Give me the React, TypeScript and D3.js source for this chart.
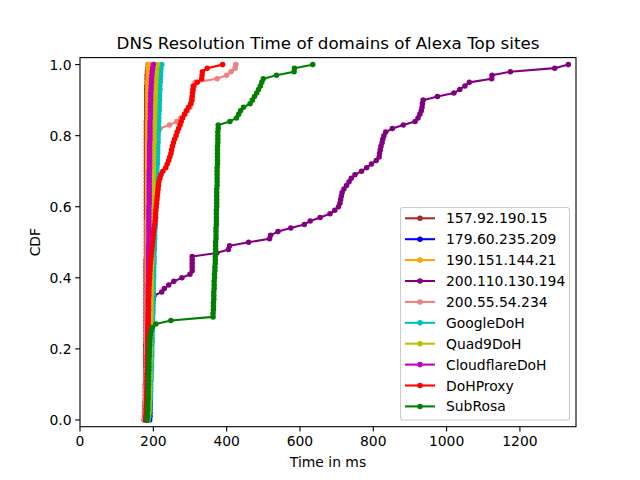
import React from "react";
import * as d3 from "d3";

const seriesNames = [
  "157.92.190.15",
  "179.60.235.209",
  "190.151.144.21",
  "200.110.130.194",
  "200.55.54.234",
  "GoogleDoH",
  "Quad9DoH",
  "CloudflareDoH",
  "DoHProxy",
  "SubRosa",
];

const seriesColors = [
  "#a52a2a", "#0000ff", "#ffa500", "#800080", "#f08080",
  "#00bfbf", "#bfbf00", "#bf00bf", "#ff0000", "#008000",
];

// Resolution times (ms) per server, one value per domain
const t157 = [
  175,176,176,177,177,177,178,178,178,178,
  178,179,179,179,179,179,179,179,179,179,
  179,179,180,180,180,180,180,180,180,180,
  180,180,180,180,180,180,180,180,180,180,
  180,180,180,180,180,180,181,181,181,181,
  181,181,181,181,181,181,181,181,181,181,
  181,181,181,181,181,181,181,181,181,181,
  181,181,181,181,181,181,181,181,181,181,
  181,181,181,181,181,182,182,182,182,182,
  182,182,182,182,182,183,183,183,184,185,
  186,
];
const t179 = [
  190,191,191,191,192,192,192,192,192,192,
  192,192,192,192,193,193,193,193,193,193,
  193,193,193,193,193,193,193,193,193,193,
  193,193,193,193,193,193,193,193,193,194,
  194,194,194,194,194,194,194,194,194,194,
  194,194,194,194,194,194,194,194,194,194,
  194,194,194,194,194,194,194,194,195,195,
  195,195,195,195,195,195,195,195,195,195,
  195,195,195,195,196,196,196,196,196,196,
  196,196,197,197,197,197,198,198,199,200,
  202,
];
const t190 = [
  178,179,179,180,180,180,181,181,181,181,
  181,182,182,182,182,182,182,182,182,182,
  182,182,182,182,182,183,183,183,183,183,
  183,183,183,183,183,183,183,183,183,183,
  183,183,183,183,183,183,183,183,183,183,
  183,183,183,183,183,183,183,184,184,184,
  184,184,184,184,184,184,184,184,184,184,
  184,184,184,184,184,184,184,184,184,184,
  184,184,184,184,184,185,185,185,185,185,
  185,185,185,185,185,185,186,186,186,186,
  187,
];
const t200a = [
  182,183,184,184,185,185,186,186,187,187,
  188,188,188,189,189,189,190,190,190,191,
  191,191,192,192,193,193,194,194,195,195,
  196,197,198,199,200,
  202,223,230,242,256,278,300,306,306,306,
  306,306,373,405,408,460,517,520,540,575,
  612,628,655,682,695,705,709,711,713,715,
  720,727,734,740,750,768,782,795,808,816,
  817,819,821,824,826,829,834,852,882,914,
  922,927,931,933,934,936,975,1020,1036,1050,
  1062,1123,1124,1174,1295,1332,
];
const t200b = [
  176,177,177,178,178,178,179,179,179,179,
  180,180,180,180,180,181,181,181,181,181,
  181,182,182,182,182,182,182,182,183,183,
  183,183,183,183,183,183,184,184,184,184,
  184,184,184,184,184,185,185,185,185,185,
  185,185,185,185,185,186,186,186,186,186,
  186,186,186,187,187,187,187,187,187,187,
  188,188,188,188,188,189,189,189,190,191,
  192,
  196,218,244,264,275,286,293,300,303,305,
  306,307,309,312,314,374,400,412,423,425,
];
const tGoogle = [
  186,188,189,190,191,191,192,192,193,193,
  193,194,194,194,195,195,195,195,196,196,
  196,196,197,197,197,197,198,198,198,198,
  199,199,199,199,199,200,200,200,200,200,
  201,201,201,201,202,202,202,202,203,203,
  203,204,204,204,205,205,205,206,206,206,
  207,207,207,208,208,208,209,209,209,210,
  210,210,211,211,211,212,212,212,213,213,
  213,214,214,214,215,215,215,216,216,216,
  217,217,217,218,218,219,219,220,220,221,
  223,
];
const tQuad9 = [
  184,186,187,188,188,189,189,189,190,190,
  190,190,191,191,191,191,191,192,192,192,
  192,192,192,193,193,193,193,193,193,194,
  194,194,194,194,194,194,195,195,195,195,
  195,195,195,195,196,196,196,196,196,196,
  196,196,197,197,197,197,197,197,198,198,
  198,198,198,198,199,199,199,199,199,200,
  200,200,200,200,201,201,201,201,202,202,
  202,202,203,203,203,203,204,204,204,205,
  205,205,206,206,206,207,207,208,208,209,
  211,
];
const tCloudflare = [
  179,180,181,181,182,182,182,183,183,183,
  183,183,184,184,184,184,184,184,184,185,
  185,185,185,185,185,185,185,185,186,186,
  186,186,186,186,186,186,186,186,186,187,
  187,187,187,187,187,187,187,187,187,187,
  188,188,188,188,188,188,188,188,188,188,
  188,189,189,189,189,189,189,189,189,189,
  189,190,190,190,190,190,190,190,190,191,
  191,191,191,191,191,192,192,192,192,192,
  193,193,193,194,194,195,195,196,197,198,
  200,
];
const tProxy = [
  180,180,181,181,181,182,182,182,182,183,
  183,183,183,183,184,184,184,184,184,185,
  185,185,185,185,185,186,186,186,186,186,
  186,187,187,187,187,188,188,188,189,189,
  190,190,191,191,192,193,194,195,196,197,
  198,199,200,201,202,204,205,206,206,207,
  208,209,210,211,212,213,214,215,218,221,
  226,234,238,242,245,248,250,252,255,258,
  262,265,269,273,276,280,285,290,296,302,
  305,306,307,308,309,320,332,333,334,347,
  389,
];
const tSubRosa = [
  183,184,184,185,185,185,186,186,186,186,
  187,187,187,187,188,188,188,188,189,189,
  189,190,190,191,192,194,197,
  207,248,363,
  363,364,364,364,365,365,365,366,366,366,367,367,
  368,368,369,369,369,370,370,370,370,371,
  371,371,371,372,372,372,372,372,373,373,
  373,373,373,373,374,374,374,374,374,374,
  375,375,375,375,375,375,376,376,376,376,
  377,377,
  409,427,433,438,446,464,470,476,482,487,
  492,496,500,536,584,585,635,
];

const seriesTimes = [t157, t179, t190, t200a, t200b, tGoogle, tQuad9, tCloudflare, tProxy, tSubRosa];

const xTicks = [0, 200, 400, 600, 800, 1000, 1200];
const yTicks = [0.0, 0.2, 0.4, 0.6, 0.8, 1.0];

const W = 640, H = 480;
const L = 80, R = 576, T = 57.6, B = 426.7;
const FONT = "DejaVu Sans, sans-serif";

export default function App() {
  const x = d3.scaleLinear().domain([0, 1353]).range([L, R]);
  const y = d3.scaleLinear().domain([-0.019, 1.0197]).range([B, T]);

  const data = seriesTimes.map((ts) => {
    const s = [...ts].sort((a, b) => a - b);
    const n = s.length;
    return s.map((v, i) => ({ t: v, p: i / (n - 1) }));
  });

  const line = d3
    .line<{ t: number; p: number }>()
    .x((d) => x(d.t))
    .y((d) => y(d.p));

  const lw = 2.08;
  const mr = 2.08;
  const mw = 1.39;
  const tickLen = 4.86;

  const legX = 400.5, legY = 207.5, legW = 169, legH = 212.5;
  const rowY0 = 218.3, rowStep = 20.9;

  return (
    <svg width={W} height={H} style={{ display: "block", position: "absolute", left: 0, top: 0 }} fontFamily={FONT}>
      <rect x={0} y={0} width={W} height={H} fill="#fff" />
      <defs>
        <clipPath id="plotclip">
          <rect x={L} y={T} width={R - L} height={B - T} />
        </clipPath>
      </defs>
      <g clipPath="url(#plotclip)">
        {data.map((pts, si) => (
          <g key={si}>
            <path d={line(pts) || ""} fill="none" stroke={seriesColors[si]} strokeWidth={lw} strokeLinejoin="round" strokeLinecap="square" />
            {pts.map((d, i) => (
              <circle key={i} cx={x(d.t)} cy={y(d.p)} r={mr} fill={seriesColors[si]} stroke={seriesColors[si]} strokeWidth={mw} />
            ))}
          </g>
        ))}
      </g>
      {/* axes frame */}
      <rect x={L} y={T} width={R - L} height={B - T} fill="none" stroke="#000" strokeWidth={1.1} />
      {/* x ticks */}
      {xTicks.map((v) => (
        <g key={"x" + v}>
          <line x1={x(v)} x2={x(v)} y1={B} y2={B + tickLen} stroke="#000" strokeWidth={1.1} />
          <text x={x(v)} y={B + tickLen + 14.2} textAnchor="middle" fontSize={13.9} fill="#000">
            {v}
          </text>
        </g>
      ))}
      {/* y ticks */}
      {yTicks.map((v) => (
        <g key={"y" + v}>
          <line x1={L - tickLen} x2={L} y1={y(v)} y2={y(v)} stroke="#000" strokeWidth={1.1} />
          <text x={L - tickLen - 3.5} y={y(v)} dy="0.36em" textAnchor="end" fontSize={13.9} fill="#000">
            {v.toFixed(1)}
          </text>
        </g>
      ))}
      {/* labels */}
      <text x={(L + R) / 2} y={49} textAnchor="middle" fontSize={16.7} fill="#000">
        DNS Resolution Time of domains of Alexa Top sites
      </text>
      <text x={(L + R) / 2} y={467} textAnchor="middle" fontSize={13.9} fill="#000">
        Time in ms
      </text>
      <text transform={`translate(40, ${(T + B) / 2}) rotate(-90)`} textAnchor="middle" fontSize={13.9} fill="#000">
        CDF
      </text>
      {/* legend */}
      <rect x={legX} y={legY} width={legW} height={legH} rx={2.8} ry={2.8} fill="#fff" fillOpacity={0.8} stroke="#cccccc" strokeWidth={1.1} />
      {seriesNames.map((name, i) => {
        const cy = rowY0 + i * rowStep;
        return (
          <g key={name}>
            <line x1={405} x2={435} y1={cy} y2={cy} stroke={seriesColors[i]} strokeWidth={lw} />
            <circle cx={420} cy={cy} r={mr} fill={seriesColors[i]} stroke={seriesColors[i]} strokeWidth={mw} />
            <text x={446} y={cy} dy="0.36em" fontSize={13.9} fill="#000">
              {name}
            </text>
          </g>
        );
      })}
    </svg>
  );
}
